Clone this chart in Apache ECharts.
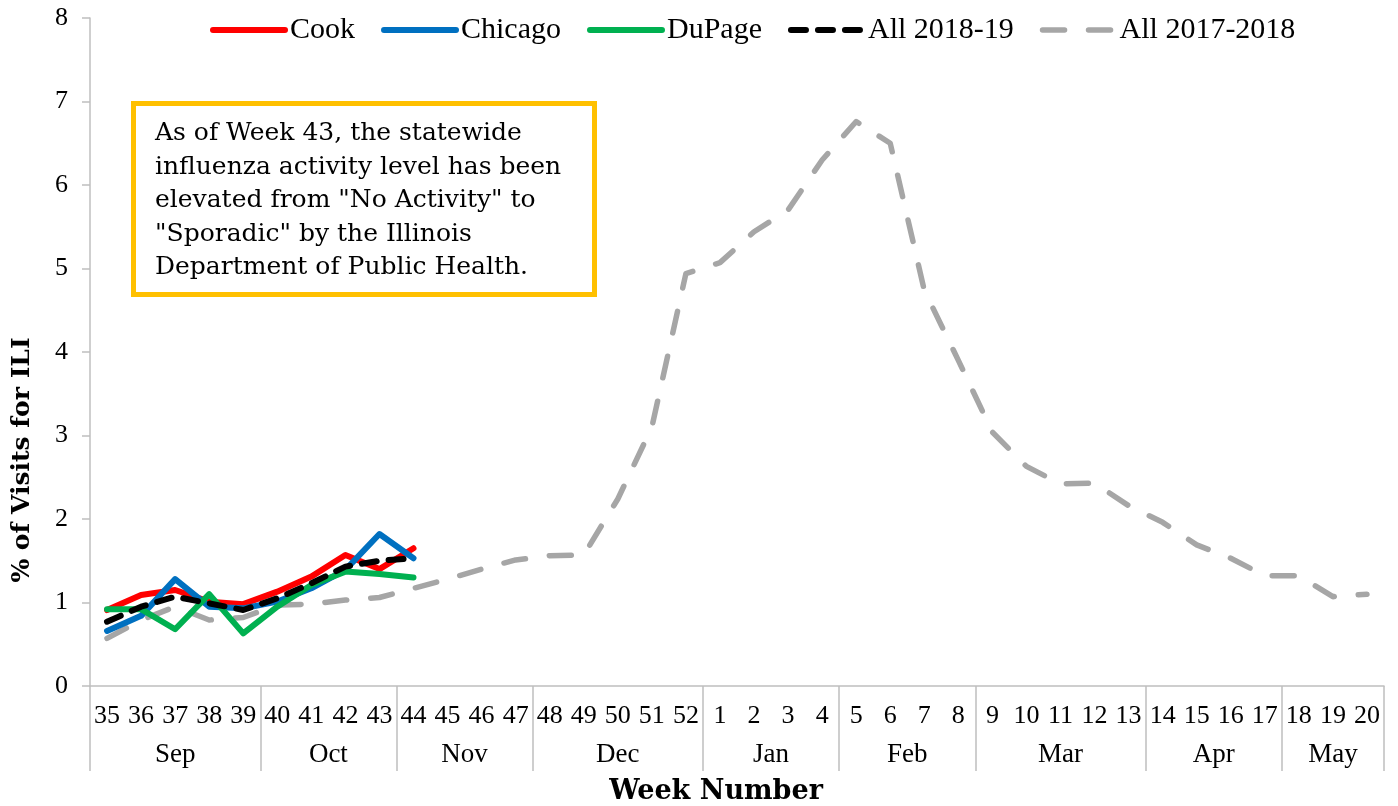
<!DOCTYPE html>
<html>
<head>
<meta charset="utf-8">
<script src="https://cdn.jsdelivr.net/npm/echarts@6/dist/echarts.min.js"></script>
<style>
html,body{margin:0;padding:0;background:#fff;}
#chart{width:1398px;height:806px;}
</style>
</head>
<body>
<div id="chart"></div>
<script>
// ---- data ----
const weeks = ['35','36','37','38','39','40','41','42','43','44','45','46','47','48','49','50','51','52',
  '1','2','3','4','5','6','7','8','9','10','11','12','13','14','15','16','17','18','19','20'];
const months = ['Sep','Oct','Nov','Dec','Jan','Feb','Mar','Apr','May'];
const monthWeekCounts = [5,4,4,5,4,4,5,4,3];
const yTicks = [0,1,2,3,4,5,6,7,8];

const cook    = [0.91,1.09,1.15,1.01,0.98,1.13,1.31,1.57,1.40,1.65];
const chicago = [0.66,0.84,1.28,0.95,0.93,1.01,1.17,1.39,1.82,1.53];
const dupage  = [0.92,0.92,0.68,1.10,0.63,0.95,1.21,1.37,1.34,1.30];
const all1819 = [0.77,0.95,1.07,0.99,0.91,1.05,1.23,1.43,1.50,1.53];
const all1718 = [0.57,0.79,0.95,0.79,0.82,0.97,0.98,1.03,1.06,1.17,1.28,1.40,1.51,1.56,1.57,2.24,3.10,4.94,
  5.07,5.44,5.70,6.30,6.76,6.50,4.74,3.90,3.04,2.63,2.42,2.43,2.16,1.96,1.69,1.53,1.32,1.32,1.07,1.10];

const noteLines = ['As of Week 43, the statewide','influenza activity level has been',
  'elevated from "No Activity" to','"Sporadic" by the Illinois','Department of Public Health.'];

// month boundaries / centers derived from counts
const bounds = [0];
monthWeekCounts.forEach(c => bounds.push(bounds[bounds.length-1] + c));
const centers = months.map((m,i) => (bounds[i] + bounds[i+1]) / 2);

const SERIF = '"Liberation Serif", "DejaVu Serif", serif';
const DJSERIF = '"DejaVu Serif", serif';
const axisGray = '#BFBFBF';

function lineSeries(name, data, color, width, dash) {
  return {
    name: name, type: 'line', data: data, xAxisIndex: 0, yAxisIndex: 0,
    symbol: 'none', showSymbol: false, connectNulls: false,
    lineStyle: { color: color, width: width, type: dash || 'solid', cap: 'round', join: 'round' },
    itemStyle: { color: color },
    emphasis: { disabled: true }, animation: false, z: 3
  };
}

const chart = echarts.init(document.getElementById('chart'), null, { renderer: 'canvas' });
chart.setOption({
  animation: false,
  backgroundColor: '#ffffff',
  grid: { left: 90, right: 14, top: 18, bottom: 120, containLabel: false },
  legend: {
    left: 205, top: 10,
    itemWidth: 72, itemHeight: 14, itemGap: 26,
    itemStyle: { opacity: 0 },
    lineStyle: { width: 'inherit', type: 'inherit', cap: 'round' },
    textStyle: { fontFamily: SERIF, fontSize: 30, color: '#000' },
    data: ['Cook','Chicago','DuPage','All 2018-19','All 2017-2018']
  },
  xAxis: [
    {
      type: 'category', data: weeks, boundaryGap: true, position: 'bottom',
      axisLine: { show: true, lineStyle: { color: axisGray, width: 1.5 } },
      axisTick: { show: false },
      axisLabel: { interval: 0, margin: 17, fontFamily: SERIF, fontSize: 26, color: '#000' },
      splitLine: { show: false }
    },
    {
      type: 'value', min: 0, max: weeks.length, position: 'bottom', gridIndex: 0,
      axisLine: { show: false },
      axisTick: { show: true, inside: false, length: 85, customValues: bounds,
        lineStyle: { color: axisGray, width: 1.5 } },
      axisLabel: { show: true, margin: 55, customValues: centers,
        formatter: function (v) { const i = centers.indexOf(v); return i >= 0 ? months[i] : ''; },
        fontFamily: SERIF, fontSize: 27, color: '#000' },
      splitLine: { show: false }
    }
  ],
  yAxis: {
    type: 'value', min: yTicks[0], max: yTicks[yTicks.length-1], interval: 1,
    axisLine: { show: true, lineStyle: { color: axisGray, width: 1.5 } },
    axisTick: { show: true, inside: false, length: 8, lineStyle: { color: axisGray, width: 1.5 } },
    axisLabel: { margin: 22, fontFamily: SERIF, fontSize: 26, color: '#000' },
    splitLine: { show: false }
  },
  series: [
    lineSeries('Cook', cook, '#FF0000', 6),
    lineSeries('Chicago', chicago, '#0070C0', 6),
    lineSeries('DuPage', dupage, '#00B050', 6),
    lineSeries('All 2018-19', all1819, '#000000', 6, [15, 12]),
    Object.assign(lineSeries('All 2017-2018', all1718, '#A6A6A6', 5.5, [22, 24]), { z: 2 })
  ],
  graphic: [
    {
      type: 'group', left: 131, top: 101, z: 10,
      children: [
        { type: 'rect', shape: { x: 2.5, y: 2.5, width: 461, height: 191 },
          style: { fill: '#ffffff', stroke: '#FFC000', lineWidth: 5 } },
        { type: 'text', x: 24, y: 16,
          style: { text: noteLines.join('\n'), font: '25px ' + DJSERIF, fill: '#000', lineHeight: 33.5,
            textAlign: 'left', textVerticalAlign: 'top' } }
      ]
    },
    { type: 'text', x: 22, y: 460, rotation: Math.PI / 2,
      style: { text: '% of Visits for ILI', font: 'bold 25px ' + DJSERIF, fill: '#000',
        textAlign: 'center', textVerticalAlign: 'middle' } },
    { type: 'text', x: 716, y: 792,
      style: { text: 'Week Number', font: 'bold 27px ' + DJSERIF, fill: '#000',
        textAlign: 'center', textVerticalAlign: 'middle' } }
  ]
});
</script>
</body>
</html>
